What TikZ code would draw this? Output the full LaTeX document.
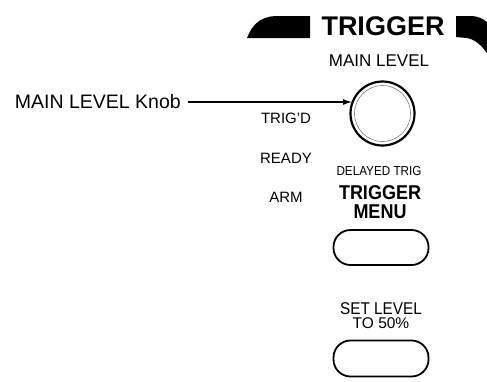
\documentclass[tikz,border=0pt]{standalone}
\usepackage{fontspec}
\setmainfont{Liberation Sans}
\newfontfamily\condfont[FakeStretch=0.9]{Liberation Sans}
\usetikzlibrary{arrows.meta, positioning}

\tikzset{
    paneltext/.style={anchor=base, inner sep=0pt, font=\fontsize{15}{15}\selectfont},
    pushbutton/.style={draw, line width=1.8pt, minimum width=95pt, minimum height=35pt, rounded corners=17pt}
}

\begin{document}
\begin{tikzpicture}[x=1pt, y=-1pt]
    \useasboundingbox (0,0) rectangle (487,381);
    \fill[white] (0,0) rectangle (487,381);
    \clip (0,0) rectangle (487,381);

    % Panel heading with the two black bars
    \fill[black] (310,16) -- (275,16) .. controls (260,17) and (252,25) .. (247,38) -- (310,38) -- cycle;
    \fill[black] (456,16) -- (472,16) .. controls (484,17) and (490,24) .. (492,30)
        -- (492,62) .. controls (486,50) and (478,40) .. (467,38) -- (456,37) -- cycle;
    \node[anchor=base, inner sep=0pt, font=\fontsize{27}{27}\selectfont\bfseries] (title) at (383,35) {TRIGGER};

    % Knob
    \node[paneltext, font=\fontsize{17}{17}\selectfont] (mainlevel) at (379,66) {MAIN LEVEL};
    \node[circle, draw, line width=2.2pt, minimum size=64pt] (knob) at (382.5,113.5) {};
    \draw[gray, line width=0.6pt] (knob.center) circle (28);

    \node[anchor=east, inner sep=0pt, font=\fontsize{19.5}{19.5}\selectfont] (knoblabel) at (181,102) {MAIN LEVEL Knob};
    \draw[line width=1.2pt, -{Latex[length=9pt, width=6pt]}] ([xshift=7pt]knoblabel.east) -- (knoblabel.east -| knob.157);

    % Status lights
    \node[paneltext] (trigd) at (286,123.5) {TRIG'D};
    \node[paneltext] (ready) at (286,163) {READY};
    \node[paneltext] (arm) at (286,202) {ARM};

    % Trigger menu button
    \node[paneltext, font=\condfont\fontsize{13}{13}\selectfont] (delayed) at (379,175) {DELAYED TRIG};
    \node[paneltext, font=\condfont\fontsize{20}{20}\selectfont\bfseries] (trigmenu) at (380,199) {TRIGGER};
    \node[paneltext, font=\condfont\fontsize{20}{20}\selectfont\bfseries] (menu) at (380,218) {MENU};
    \node[pushbutton] (menubutton) at (381,247.5) {};

    % Set level button
    \node[paneltext, font=\condfont\fontsize{17}{17}\selectfont] (setlevel) at (381,314) {SET LEVEL};
    \node[paneltext, font=\fontsize{15.5}{15.5}\selectfont] (tofifty) at (381,328.5) {TO 50\%};
    \node[pushbutton, minimum height=36pt] (levelbutton) at (381,358.5) {};
\end{tikzpicture}
\end{document}
